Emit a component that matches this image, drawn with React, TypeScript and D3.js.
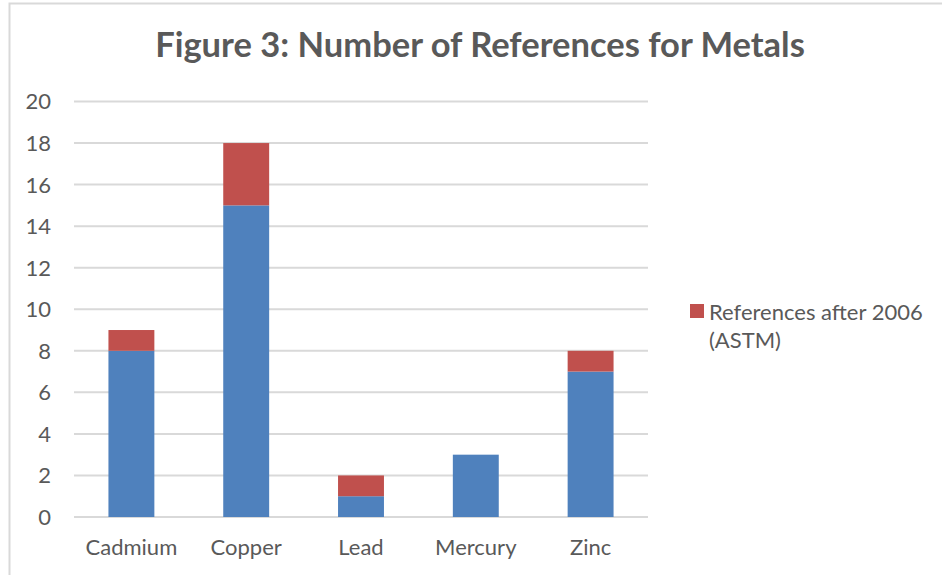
import React, { useRef, useEffect } from "react";
import * as d3 from "d3";

const categories = ["Cadmium", "Copper", "Lead", "Mercury", "Zinc"];
const beforeValues = [8, 15, 1, 3, 7];
const afterValues = [1, 3, 1, 0, 1];
const yTicks = [0, 2, 4, 6, 8, 10, 12, 14, 16, 18, 20];
const legendLabel = ["References after 2006", "(ASTM)"];
const title = "Figure 3: Number of References for Metals";

const FONT = "Lato, 'Open Sans', sans-serif";

const App: React.FC = () => {
  const ref = useRef<SVGSVGElement | null>(null);

  useEffect(() => {
    const svg = d3.select(ref.current);
    svg.selectAll("*").remove();

    const width = 942;
    const height = 575;
    svg.attr("width", width).attr("height", height);

    // chart frame
    svg
      .append("rect")
      .attr("x", 9.5)
      .attr("y", 3.5)
      .attr("width", 1000)
      .attr("height", 1000)
      .attr("fill", "white")
      .attr("stroke", "#d9d9d9")
      .attr("stroke-width", 2);

    svg
      .append("text")
      .attr("x", 480)
      .attr("y", 57)
      .attr("text-anchor", "middle")
      .attr("font-family", FONT)
      .attr("font-weight", "bold")
      .attr("font-size", 34.5)
      .attr("fill", "#595959")
      .text(title);

    const x = d3
      .scaleBand()
      .domain(categories)
      .range([74, 648])
      .paddingInner(0.6)
      .paddingOuter(0.3);

    const y = d3.scaleLinear().domain([0, 20]).range([517, 101.5]);

    // gridlines
    svg
      .append("g")
      .selectAll("line")
      .data(yTicks)
      .enter()
      .append("line")
      .attr("x1", 74)
      .attr("x2", 648)
      .attr("y1", (d) => y(d))
      .attr("y2", (d) => y(d))
      .attr("stroke", "#d9d9d9")
      .attr("stroke-width", 2);

    svg
      .append("g")
      .selectAll("text")
      .data(yTicks)
      .enter()
      .append("text")
      .attr("x", 51)
      .attr("y", (d) => y(d))
      .attr("dy", "0.36em")
      .attr("text-anchor", "end")
      .attr("font-family", FONT)
      .attr("font-size", 22)
      .attr("fill", "#595959")
      .text((d) => d);

    const rows = categories.map((c, i) => ({
      c,
      a: beforeValues[i],
      b: afterValues[i],
    }));

    const bars = svg.append("g");
    bars
      .selectAll("rect.before")
      .data(rows)
      .enter()
      .append("rect")
      .attr("class", "before")
      .attr("x", (d) => x(d.c) || 0)
      .attr("width", x.bandwidth())
      .attr("y", (d) => y(d.a))
      .attr("height", (d) => y(0) - y(d.a))
      .attr("fill", "#4f81bd");

    bars
      .selectAll("rect.after")
      .data(rows.filter((d) => d.b > 0))
      .enter()
      .append("rect")
      .attr("class", "after")
      .attr("x", (d) => x(d.c) || 0)
      .attr("width", x.bandwidth())
      .attr("y", (d) => y(d.a + d.b))
      .attr("height", (d) => y(d.a) - y(d.a + d.b))
      .attr("fill", "#c0504d");

    svg
      .append("g")
      .selectAll("text")
      .data(categories)
      .enter()
      .append("text")
      .attr("x", (d) => (x(d) || 0) + x.bandwidth() / 2)
      .attr("y", 555)
      .attr("text-anchor", "middle")
      .attr("font-family", FONT)
      .attr("font-size", 22)
      .attr("fill", "#595959")
      .text((d) => d);

    // legend
    const legend = svg.append("g");
    legend
      .append("rect")
      .attr("x", 690)
      .attr("y", 304)
      .attr("width", 14)
      .attr("height", 14)
      .attr("fill", "#c0504d");
    legend
      .selectAll("text")
      .data(legendLabel)
      .enter()
      .append("text")
      .attr("x", 709)
      .attr("y", (d, i) => 320 + i * 28)
      .attr("font-family", FONT)
      .attr("font-size", 22)
      .attr("fill", "#595959")
      .text((d) => d);
  }, []);

  return (
    <svg
      ref={ref}
      style={{ position: "absolute", left: 0, top: 0, display: "block" }}
    ></svg>
  );
};

export default App;
